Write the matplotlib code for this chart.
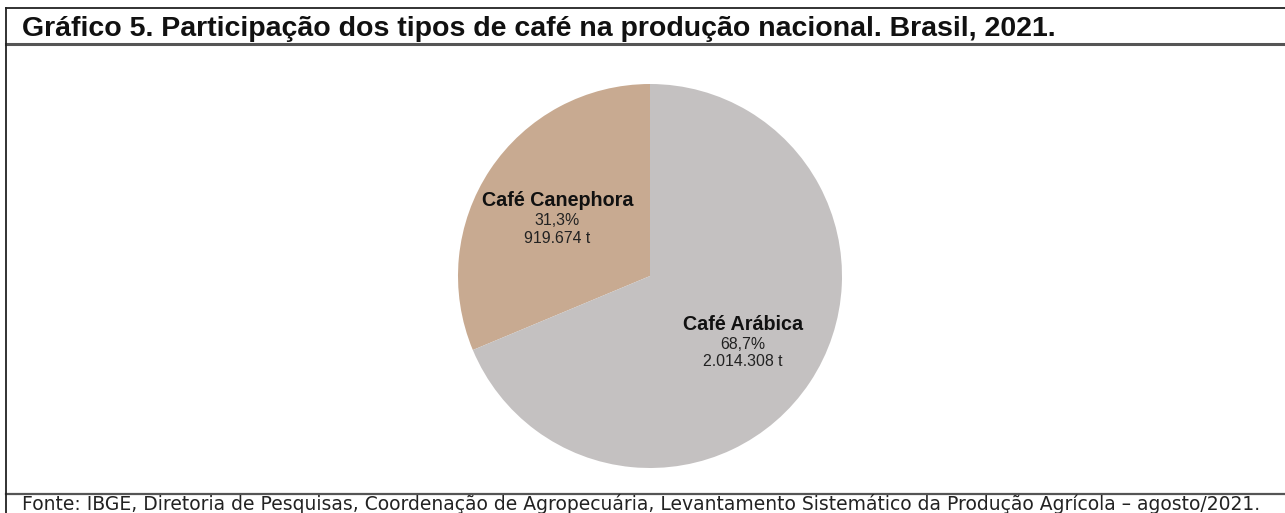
import numpy as np
import matplotlib.pyplot as plt
from matplotlib.lines import Line2D

# dados
tipos = ['Café Canephora', 'Café Arábica']
percentuais = [31.3, 68.7]
producao_t = ['919.674 t', '2.014.308 t']
cores = ['#C8AA91', '#C4C1C1']

titulo = 'Gráfico 5. Participação dos tipos de café na produção nacional. Brasil, 2021.'
fonte = ('Fonte: IBGE, Diretoria de Pesquisas, Coordenação de Agropecuária, '
         'Levantamento Sistemático da Produção Agrícola – agosto/2021.')

W, H = 1285, 513
plt.rcParams['font.family'] = ['Liberation Sans', 'DejaVu Sans']
fig = plt.figure(figsize=(W / 100, H / 100), dpi=100)
fig.patch.set_facecolor('white')

# pizza: centro (650, 276) px, raio 192 px
cx, cy, r = 650, 276, 192
ax = fig.add_axes([(cx - r) / W, (H - cy - r) / H, 2 * r / W, 2 * r / H])
wedges, _ = ax.pie(percentuais, colors=cores, startangle=90, counterclock=True,
                   radius=1, wedgeprops={'linewidth': 0})
ax.set_xlim(-1, 1)
ax.set_ylim(-1, 1)
ax.set_aspect('auto')
ax.axis('off')

for w, nome, p, t in zip(wedges, tipos, percentuais, producao_t):
    ang = np.deg2rad((w.theta1 + w.theta2) / 2)
    x, y = 0.58 * np.cos(ang), 0.58 * np.sin(ang)
    ax.text(x, y + 0.07, nome, ha='center', va='center', fontsize=14.2,
            fontweight='bold', color='#111111')
    ax.text(x, y - 0.035, ('%.1f%%' % p).replace('.', ','), ha='center',
            va='center', fontsize=11.4, color='#222222')
    ax.text(x, y - 0.125, t, ha='center', va='center', fontsize=11.4,
            color='#222222')

# moldura
def px_line(x0, y0, x1, y1, **kw):
    fig.add_artist(Line2D([x0 / W, x1 / W], [1 - y0 / H, 1 - y1 / H],
                          transform=fig.transFigure, **kw))

px_line(6, 8, W, 8, color='#222222', lw=1.3)
px_line(6, 44, W, 44, color='#555555', lw=2.2)
px_line(6, 494, W, 494, color='#555555', lw=1.6)
px_line(6, 8, 6, H, color='#222222', lw=1.3)

fig.text(22 / W, 1 - 28.5 / H, titulo, ha='left', va='center', fontsize=20.5,
         fontweight='bold', color='#111111')
fig.text(22 / W, 1 - 510 / H, fonte, ha='left', va='baseline', fontsize=13.5,
         color='#222222', family=['DejaVu Sans'])

plt.savefig('out.png', dpi=100)
